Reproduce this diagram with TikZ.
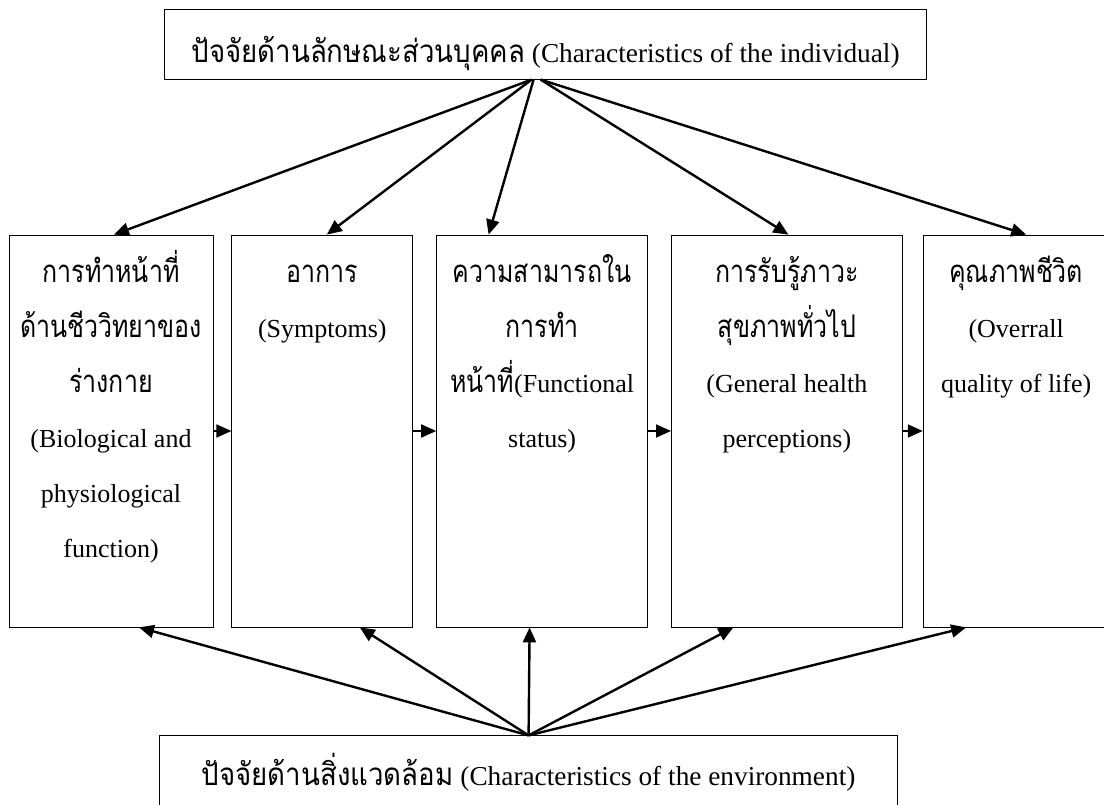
\documentclass[tikz,border=0pt]{standalone}
\usepackage{fontspec}
\setmainfont{Liberation Serif}
\newfontfamily\thaifont[Script=Thai, Scale=1.2, FakeStretch=0.8]{Loma}
\newfontfamily\thaiwide[Script=Thai, Scale=1.15, FakeStretch=0.88]{Loma}
\usetikzlibrary{arrows.meta, positioning}

\newcommand{\thaitxt}[1]{{\thaifont #1}}
\newcommand{\thaihead}[1]{{\thaiwide #1}}
\newcommand{\stagetext}[2]{\begin{minipage}[t][392pt][t]{#1}\centering
  \fontsize{26pt}{55pt}\selectfont\rule{0pt}{48pt}#2\end{minipage}}

\begin{document}
\begin{tikzpicture}[auto, node distance=20pt, >=stealth]
    % Styles
    \tikzstyle{stage} = [rectangle, draw, line width=0.8pt, inner sep=0pt]
    \tikzstyle{factor} = [rectangle, draw, line width=0.8pt, inner sep=0pt, font=\fontsize{27.3pt}{30pt}\selectfont]
    \tikzstyle{arrow} = [line width=2.4pt, -{Triangle[length=15pt, width=13pt]}]

    \useasboundingbox (0,0) rectangle (1104pt,-805pt);

    % Nodes
    \node[stage] (b1) at (111pt,-431pt) {\stagetext{204pt}{\thaitxt{การทำหน้าที่}\\ \thaitxt{ด้านชีววิทยาของ}\\ \thaitxt{ร่างกาย}\\ (Biological and\\ physiological\\ function)}};
    \node[stage, right=18pt of b1] (b2) {\stagetext{181pt}{\thaitxt{อาการ}\\ (Symptoms)}};
    \node[stage, right=23pt of b2] (b3) {\stagetext{211pt}{\thaitxt{ความสามารถใน}\\ \thaitxt{การทำ}\\ \thaitxt{หน้าที่}(Functional\\ status)}};
    \node[stage, right=23pt of b3] (b4) {\stagetext{231pt}{\thaitxt{การรับรู้ภาวะ}\\ \thaitxt{สุขภาพทั่วไป}\\ (General health\\ perceptions)}};
    \node[stage, right=of b4] (b5) {\stagetext{186pt}{\thaitxt{คุณภาพชีวิต}\\ (Overrall\\ quality of life)}};
    \node[factor, above=155pt of b3, xshift=3.5pt, minimum width=762pt, text height=53pt, text depth=17pt] (individual) {\thaihead{ปัจจัยด้านลักษณะส่วนบุคคล} (Characteristics of the individual)};
    \node[factor, below=108pt of b3, xshift=-13.5pt, minimum width=738pt, text height=50pt, text depth=23pt] (environment) {\thaihead{ปัจจัยด้านสิ่งแวดล้อม} (Characteristics of the environment)};

    % Paths
    \draw [arrow] ([xshift=-14pt]individual.south) -- ([xshift=3pt]b1.north);
    \draw [arrow] ([xshift=-14pt]individual.south) -- ([xshift=4.5pt]b2.north);
    \draw [arrow] ([xshift=-12pt]individual.south) -- ([xshift=-53.5pt]b3.north);
    \draw [arrow] ([xshift=-5pt]individual.south) -- ([xshift=1.5pt]b4.north);
    \draw [arrow] ([xshift=-5pt]individual.south) -- ([xshift=10pt]b5.north);

    \draw [arrow] (environment.north) -- ([xshift=28pt]b1.south);
    \draw [arrow] (environment.north) -- ([xshift=37.5pt]b2.south);
    \draw [arrow] (environment.north) -- ([xshift=-12.5pt]b3.south);
    \draw [arrow] (environment.north) -- ([xshift=-53.5pt]b4.south);
    \draw [arrow] (environment.north) -- ([xshift=-50pt]b5.south);

    \foreach \a/\b in {b1/b2, b2/b3, b3/b4, b4/b5}
      \draw [arrow, line width=1.8pt] (\a) -- (\b);
  \end{tikzpicture}
\end{document}
